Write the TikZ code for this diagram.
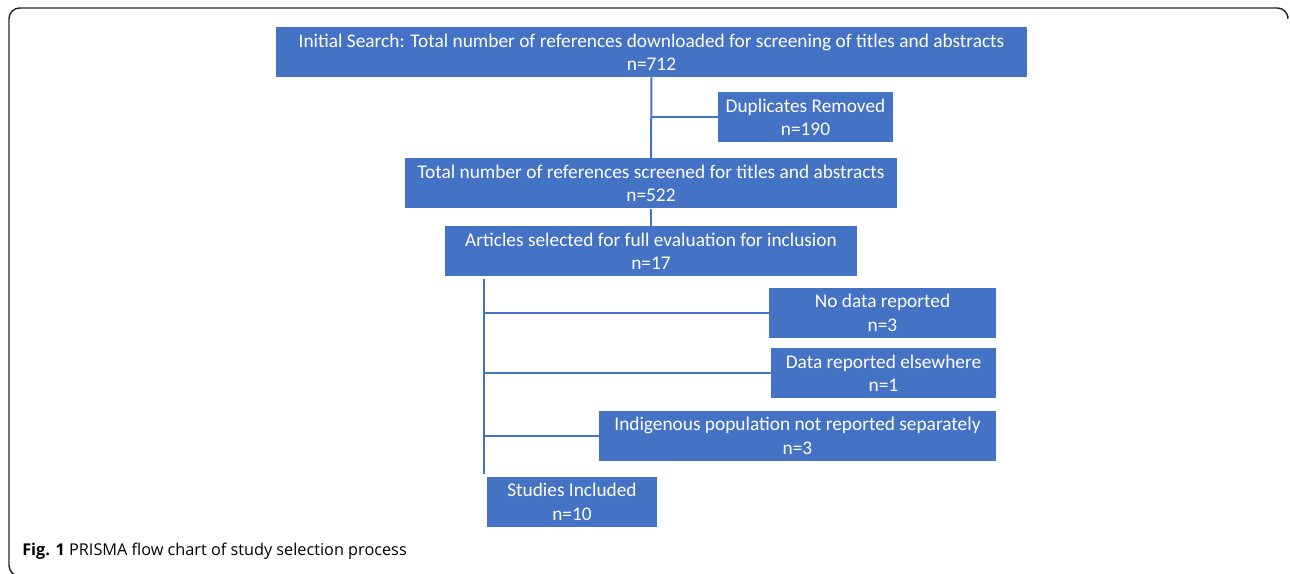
\documentclass[tikz,border=0pt]{standalone}
\usepackage{fontspec}
\newfontfamily\boxfont{Carlito}
\newfontfamily\capfont{Open Sans}
\usetikzlibrary{calc}
\definecolor{prismablue}{HTML}{4472C4}
\tikzset{
  flowbox/.style={fill=prismablue, text=white, inner sep=0pt, align=center,
    minimum height=37.5pt, font=\boxfont\fontsize{14.5}{17.5}\selectfont},
  link/.style={draw=prismablue, line width=1.5pt},
}

\begin{document}
\begin{tikzpicture}[x=0.75pt, y=-0.75pt]
  \useasboundingbox (0,0) rectangle (1290,574);
  % --- frame round the figure ---
  \draw[line width=1.1pt, black!85, rounded corners=8pt]
    (22,576) -- (9,576) -- (9,8) -- (1288,8) -- (1288,16);
  % --- boxes ---
  \node[flowbox, minimum width=563.25pt] (init) at (651.5,52)
    {Initial Search: Total number of references downloaded for screening of titles and abstracts\\n=712};
  \node[flowbox, minimum width=131.25pt] (dup) at (805.5,117.5) {Duplicates Removed\\n=190};
  \node[flowbox, minimum width=369pt] (screen) at (651,183.5)
    {Total number of references screened for titles and abstracts\\n=522};
  \node[flowbox, minimum width=309pt] (full) at (651,251)
    {Articles selected for full evaluation for inclusion\\n=17};
  \node[flowbox, minimum width=170.25pt] (nodata) at (882.5,313) {No data reported\\n=3};
  \node[flowbox, minimum width=168.75pt] (elsewhere) at (883.5,373) {Data reported elsewhere\\n=1};
  \node[flowbox, minimum width=297.75pt] (indig) at (797.5,436)
    {Indigenous population not reported separately\\n=3};
  \node[flowbox, minimum width=127.5pt] (incl) at (572,502) {Studies Included\\n=10};
  % --- connectors ---
  \draw[link] (init.south) -- (screen.north);
  \draw[link] (init.south |- dup.west) -- (dup.west);
  \draw[link] (screen.south) -- (full.north);
  \coordinate (trunk) at ($(full.south west)+(39,3)$);
  \draw[link] (trunk) -- ($(trunk |- incl.north)+(0,-3)$);
  \foreach \n in {nodata, elsewhere, indig}
    \draw[link] (trunk |- \n.west) -- (\n.west);
  % --- caption ---
  \node[anchor=base west, inner sep=0pt, font=\capfont\fontsize{12.2}{14}\selectfont] (cap) at (22,555)
    {\textbf{Fig. 1} PRISMA flow chart of study selection process};
\end{tikzpicture}
\end{document}
